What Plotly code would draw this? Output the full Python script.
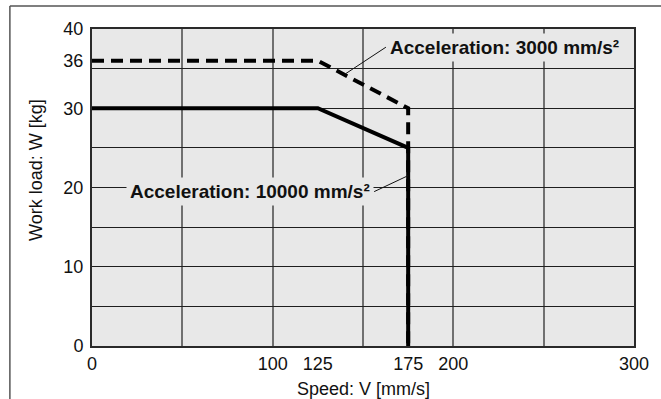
import plotly.graph_objects as go

# Work load vs. speed limits for two acceleration settings
speed_3000 = [0, 125, 175, 175]
load_3000 = [36, 36, 30, 0]
speed_10000 = [0, 125, 175, 175]
load_10000 = [30, 30, 25, 0]

x_ticks = [0, 100, 125, 175, 200, 300]
y_ticks = [0, 10, 20, 30, 36, 40]

label_3000 = "Acceleration: 3000 mm/s²"
label_10000 = "Acceleration: 10000 mm/s²"
# points on each curve where the callout lines meet it
callout_3000 = (140, 34.3)
callout_10000 = (175, 21.5)

FONT = "Liberation Sans, Arial, Helvetica, sans-serif"
PLOT_BG = "#e8e8e8"

fig = go.Figure()
# dashed curve lives on the overlaid grid axes (x2/y2), solid on the labelled axes
fig.add_trace(go.Scatter(x=speed_3000, y=load_3000, mode="lines",
                         xaxis="x2", yaxis="y2",
                         line=dict(color="black", width=4, dash="12px,7px"),
                         hoverinfo="skip", showlegend=False))
fig.add_trace(go.Scatter(x=speed_10000, y=load_10000, mode="lines",
                         line=dict(color="black", width=4),
                         hoverinfo="skip", showlegend=False))

fig.update_layout(
    width=661, height=399,
    margin=dict(l=92, r=18, t=29, b=53),
    paper_bgcolor="white",
    plot_bgcolor=PLOT_BG,
    font=dict(family=FONT, size=18, color="#111"),
    xaxis=dict(range=[0, 300], tickvals=x_ticks, showgrid=False, zeroline=False,
               showline=True, mirror=True, linecolor="#2a2a2a", linewidth=2,
               ticks="", ticklabelstandoff=0, fixedrange=True),
    xaxis2=dict(range=[0, 300], overlaying="x", anchor="y2", tick0=0, dtick=50,
                showgrid=True, gridcolor="#707070", gridwidth=1.5,
                showticklabels=False, zeroline=False, ticks="", fixedrange=True),
    yaxis=dict(range=[0, 40], tickvals=y_ticks, showgrid=False, zeroline=False,
               showline=True, mirror=True, linecolor="#2a2a2a", linewidth=2,
               ticks="", ticklabelstandoff=3, fixedrange=True),
    yaxis2=dict(range=[0, 40], overlaying="y", anchor="x2", tick0=0, dtick=5,
                showgrid=True, gridcolor="#1e1e1e", gridwidth=1.3,
                showticklabels=False, zeroline=False, ticks="", fixedrange=True),
)

# callout labels with leader lines
fig.add_annotation(x=callout_3000[0], y=callout_3000[1], xref="x", yref="y",
                   text=f"<b>{label_3000}</b>", showarrow=True, arrowhead=0,
                   arrowwidth=1, arrowcolor="#111", ax=41, ay=-27,
                   xanchor="left", yanchor="middle",
                   bgcolor=PLOT_BG, borderpad=3, font=dict(size=19, color="#111"))
fig.add_annotation(x=callout_10000[0], y=callout_10000[1], xref="x", yref="y",
                   text=f"<b>{label_10000}</b>", showarrow=True, arrowhead=0,
                   arrowwidth=1, arrowcolor="#111", ax=-34, ay=16,
                   xanchor="right", yanchor="middle",
                   bgcolor=PLOT_BG, borderpad=3, font=dict(size=19, color="#111"))

# axis titles
fig.add_annotation(x=0.5, y=-0.1356, xref="paper", yref="paper",
                   text="Speed: V [mm/s]", showarrow=False,
                   xanchor="center", yanchor="middle", font=dict(size=18))
fig.add_annotation(x=-0.1034, y=0.555, xref="paper", yref="paper",
                   text="Work load: W [kg]", textangle=-90, showarrow=False,
                   xanchor="center", yanchor="middle", font=dict(size=18))

# outer frame (top and left edges)
fig.add_shape(type="line", xref="paper", yref="paper",
              x0=-0.1515, x1=1.06, y0=1.0726, y1=1.0726,
              line=dict(color="#555", width=1.5))
fig.add_shape(type="line", xref="paper", yref="paper",
              x0=-0.1515, x1=-0.1515, y0=1.0726, y1=-0.2,
              line=dict(color="#555", width=1.5))

fig.write_html("out.html")
